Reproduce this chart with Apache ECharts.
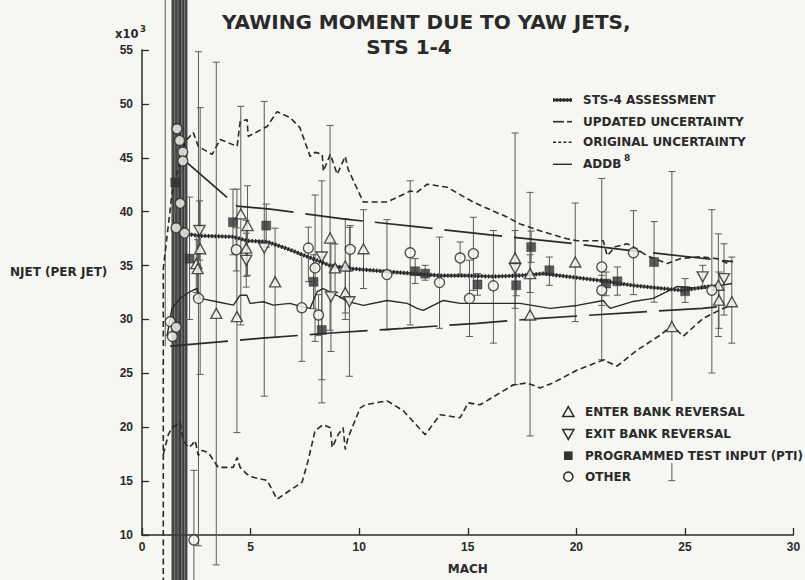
<!DOCTYPE html>
<html><head><meta charset="utf-8">
<script src="https://cdn.jsdelivr.net/npm/echarts@6/dist/echarts.min.js"></script>
<style>html,body{margin:0;padding:0;background:#f6f6f3}#c{width:805px;height:580px}</style>
</head><body><div id="c"></div><script>
// ---------- DATA (Mach, NJET x10^3) ----------
const xTicks = [0, 5, 10, 15, 20, 25, 30];
const yTicks = [10, 15, 20, 25, 30, 35, 40, 45, 50, 55];

const stsAssessment = [[1.53,38.40],[1.99,37.94],[2.68,37.76],[4.20,37.67],[4.84,37.30],[5.76,37.20],[6.69,36.56],[7.28,36.10],[8.67,34.99],[9.72,34.71],[11.29,34.44],[12.49,34.25],[13.73,34.07],[14.97,34.07],[16.17,33.98],[17.41,34.07],[18.47,34.25],[19.58,33.98],[21.10,33.61],[22.62,33.15],[24.00,32.87],[24.92,32.69],[26.02,33.05],[26.6,33.1]];

const updatedUpper = [[1.90,44.86],[4.38,40.52],[5.90,40.24],[9.26,39.33],[12.71,38.59],[16.03,37.85],[19.57,37.11],[22.62,36.37],[27.22,35.36]];
const updatedLower = [[1.30,27.52],[5.53,28.26],[8.53,28.72],[12.03,29.18],[15.43,29.64],[18.33,30.10],[22.71,30.66],[25.80,31.03],[27.08,31.30]];

const originalUpper = [[0.98,5.5],[0.98,34.71],[1.39,41.81],[1.99,46.5],[2.36,47.35],[2.59,46.06],[3.23,45.32],[3.60,46.70],[4.38,46.06],[4.52,48.36],[4.84,48.55],[4.89,46.98],[5.76,47.90],[6.22,49.28],[6.82,48.73],[7.27,47.8],[7.74,45.13],[7.97,45.50],[8.30,45.32],[8.35,43.75],[8.67,45.32],[8.99,43.47],[9.36,45.13],[9.49,43.94],[10.19,40.89],[11.29,40.89],[12.35,41.91],[12.67,41.81],[13.13,42.55],[14.05,42.27],[15.25,40.89],[16.17,40.06],[16.81,39.50],[17.41,38.86],[18.33,38.22],[19.57,37.48],[20.04,37.30],[21.24,37.30],[21.42,35.91],[21.79,36.74],[22.34,37.02],[22.62,36.74],[23.26,35.91],[24.18,35.18],[24.78,35.64],[25.70,35.82],[26.48,35.64],[26.99,35.18]];
const originalLower = [[0.98,17.47],[1.21,19.31],[1.39,19.96],[1.76,20.42],[1.90,18.76],[2.13,18.12],[2.31,18.39],[2.45,18.76],[2.59,17.38],[2.77,17.84],[3.05,17.65],[3.51,16.27],[4.20,16.27],[4.38,17.19],[4.52,16.27],[4.84,15.63],[5.12,15.35],[5.76,15.07],[6.22,13.32],[6.82,14.15],[7.37,14.89],[7.65,16.92],[7.97,19.68],[8.34,20.24],[8.67,19.96],[8.76,18.12],[9.03,19.31],[9.26,19.96],[9.36,17.93],[9.49,19.04],[10.05,21.80],[10.28,22.08],[11.29,22.45],[12.03,21.53],[13.04,19.31],[13.73,21.16],[14.65,20.88],[15.02,22.26],[15.57,22.08],[17.09,23.92],[17.73,24.11],[18.33,23.65],[18.93,24.11],[20.04,25.31],[21.24,26.23],[21.88,25.68],[22.80,27.15],[23.86,28.54],[24.41,29.46],[24.92,28.44],[25.84,30.10],[26.48,30.75],[27.08,31.30]];

const addb = [[1.15,28.42],[1.38,31.03],[1.76,31.95],[2.22,32.59],[2.53,32.87],[2.68,31.95],[3.45,31.64],[4.21,31.33],[4.52,32.25],[4.83,32.25],[4.98,31.49],[5.59,31.64],[6.05,31.33],[6.82,31.49],[7.28,31.21],[7.74,31.03],[8.07,32.59],[8.34,32.87],[8.99,32.22],[9.45,31.67],[10.19,31.30],[11.29,31.76],[12.21,31.49],[12.67,31.03],[12.95,30.84],[13.41,31.30],[13.87,31.76],[14.65,31.49],[16.17,31.49],[17.41,31.49],[18.79,31.03],[20.04,31.30],[21.24,31.76],[21.42,31.30],[21.56,31.03],[22.62,31.67],[23.54,31.95],[24.64,33.05],[25.70,32.87],[26.30,33.05],[27.17,33.33]];

// markers: [mach, value, errLow, errHigh]
const enterBank = [[2.68,36.56,24.9,49.65],[2.50,35.18,32.5,37.8],[2.56,34.71,32.0,37.4],[3.42,30.56,7.23,53.87],[4.37,30.26,19.5,42.09],[4.55,39.79,29.49,49.77],[4.86,38.71,34.1,42.40],[4.80,36.62,34.0,39.2],[6.13,33.49,28.32,38.47],[8.66,37.55,29.0,48.0],[8.89,34.78,32.5,37.0],[9.36,34.96,30.6,39.33],[9.36,32.50,30.0,35.0],[10.20,36.56,32.87,40.18],[17.18,35.70,23.95,47.3],[17.87,34.25,32.5,36.0],[17.87,30.41,19.19,41.79],[19.95,35.33,29.80,40.80],[24.40,29.34,15.04,43.72],[26.54,33.17,28.42,37.94],[26.57,31.79,29.18,34.4],[27.16,31.64,27.80,35.79]];
const exitBank = [[2.65,38.25,35.5,41.0],[4.80,35.48,33.0,38.0],[5.63,36.62,22.88,50.23],[8.28,35.79,24.41,42.86],[8.70,32.10,27.03,37.2],[9.55,31.64,24.73,38.55],[17.18,34.71,31.03,38.25],[25.82,33.95,32.9,35.02],[26.80,33.79,30.41,37.02]];
const ptiInput = [[1.53,42.71,40.0,45.4],[2.19,35.64,30.0,41.35],[4.19,39.02,36.0,42.09],[5.72,38.71,36.7,40.7],[7.90,33.49,31.0,36.0],[8.28,29.02,22.26,35.8],[12.58,34.47,33.33,35.64],[13.04,34.25,33.64,35.02],[15.45,33.24,32.25,34.25],[17.23,33.17,32.2,34.2],[17.92,36.71,35.3,38.2],[18.76,34.56,33.17,35.79],[21.37,33.33,32.2,34.4],[21.89,33.54,32.25,34.87],[23.58,35.33,31.6,39.08],[25.01,32.62,31.58,33.79]];
const otherPts = [[1.61,47.69],[1.73,46.61],[1.88,45.53],[1.88,44.70],[1.76,40.77],[1.57,38.50],[1.96,38.01],[2.60,31.95,9.0,54.84],[1.30,29.80],[1.57,29.27],[1.40,28.42],[2.39,9.54,3.0,16.0],[4.34,36.47,34.5,38.5],[7.36,31.09,26.11,36.0],[7.66,36.62,33.5,38.56],[7.97,34.78,27.96,41.54],[8.13,30.41,28.5,32.3],[9.59,36.50,34.5,38.71],[11.28,34.16,29.02,39.26],[12.35,36.19,29.49,42.86],[13.70,33.42,29.18,37.64],[14.65,35.70,34.2,37.18],[15.08,31.95,28.42,35.5],[15.26,36.10,32.7,39.48],[16.18,33.12,27.80,38.25],[21.17,34.87,26.26,43.08],[21.17,32.71,31.3,34.1],[22.63,36.19,32.3,40.09],[26.24,32.71,25.03,40.18]];

// dense error bars around Mach 1.4-2.1 (extend off-chart)
const bandMach = [1.39,1.46,1.53,1.60,1.66,1.72,1.78,1.85,1.92,1.99,2.06];
const bandSpan = [3, 62];
const extraBars = [[1.07, 27.5, 62]];

// ---------- CHART ----------
const BG = '#f6f6f3', INK = '#2a2a2a', BAR = '#5a5a5a';
const TXT = 'DejaVu Sans', NUM = 'Liberation Sans';
const chart = echarts.init(document.getElementById('c'), null, {renderer: 'svg'});

const errData = [].concat(enterBank, exitBank, ptiInput, otherPts)
  .filter(d => d.length === 4).map(d => [d[0], d[2], d[3], 1])
  .concat(extraBars.map(d => [d[0], d[1], d[2], 0]));
const bandData = bandMach.map(m => [m, bandSpan[0], bandSpan[1], 0]);

function barRender(color, width, capHalf) {
  return function (params, api) {
    const x = api.value(0), lo = api.value(1), hi = api.value(2);
    const withCap = capHalf > 0 && api.value(3) === 1;
    const a = api.coord([x, hi]), b = api.coord([x, lo]);
    const st = {stroke: color, lineWidth: width};
    const ch = [{type: 'line', shape: {x1: a[0], y1: a[1], x2: b[0], y2: b[1]}, style: st}];
    if (withCap) {
      ch.push({type: 'line', shape: {x1: a[0]-capHalf, y1: a[1], x2: a[0]+capHalf, y2: a[1]}, style: st});
      ch.push({type: 'line', shape: {x1: b[0]-capHalf, y1: b[1], x2: b[0]+capHalf, y2: b[1]}, style: st});
    }
    return {type: 'group', children: ch};
  };
}

const lineBase = {type: 'line', showSymbol: false, symbol: 'none', clip: false, silent: true, z: 3, animation: false};
const pts = arr => arr.map(d => [d[0], d[1]]);
const mk = {color: BG, borderColor: INK, borderWidth: 1.4};

const textEl = (x, y, text, size, family, extra) => ({
  type: 'text', x: x, y: y, z: 60,
  style: Object.assign({text: text, fontSize: size, fontWeight: 'bold', fontFamily: family, fill: INK,
    textAlign: 'left', align: 'left', textVerticalAlign: 'middle', verticalAlign: 'middle'}, extra || {})
});
const lineEl = (x1, y1, x2, y2, w, dash) => ({type: 'line', z: 60, shape: {x1, y1, x2, y2},
  style: {stroke: INK, lineWidth: w, lineDash: dash || null}});

const graphics = [
  textEl(222, 22, 'YAWING MOMENT DUE TO YAW JETS,', 20, TXT),
  textEl(409, 47, 'STS 1-4', 20, TXT, {textAlign: 'center', align: 'center'}),
  textEl(115, 34, 'x10', 11.5, TXT),
  textEl(140, 28.5, '3', 8.5, TXT),
  textEl(10, 272, 'NJET (PER JET)', 12, TXT),
  // upper legend
  lineEl(553, 100, 572, 100, 2.6),
  lineEl(553, 100, 572, 100, 4.2, [1.2, 2.2]),
  textEl(583, 100, 'STS-4 ASSESSMENT', 12, TXT),
  lineEl(553, 121.7, 564, 121.7, 1.6),
  lineEl(567, 121.7, 572, 121.7, 1.6),
  textEl(583, 121.7, 'UPDATED UNCERTAINTY', 12, TXT),
  lineEl(553, 142.3, 572, 142.3, 1.5, [3, 2.2]),
  textEl(583, 142.3, 'ORIGINAL UNCERTAINTY', 12, TXT),
  lineEl(553, 164.3, 572, 164.3, 1.4),
  textEl(583, 164.3, 'ADDB', 12, TXT),
  textEl(624, 157.5, '8', 9, TXT),
  // lower legend (with blank background)
  {type: 'rect', z: 55, shape: {x: 560, y: 401, width: 245, height: 62}, style: {fill: BG}},
  {type: 'polygon', z: 60, shape: {points: [[568.3,406.6],[573.9,416.4],[562.7,416.4]]}, style: {fill: BG, stroke: INK, lineWidth: 1.5}},
  textEl(585, 411.7, 'ENTER BANK REVERSAL', 12, TXT),
  {type: 'polygon', z: 60, shape: {points: [[562.7,429.6],[573.9,429.6],[568.3,439.4]]}, style: {fill: BG, stroke: INK, lineWidth: 1.5}},
  textEl(585, 434.3, 'EXIT BANK REVERSAL', 12, TXT),
  {type: 'rect', z: 60, shape: {x: 564, y: 451.4, width: 8.6, height: 8.6}, style: {fill: '#333'}},
  textEl(585, 455.7, 'PROGRAMMED TEST INPUT (PTI)', 12, TXT),
  {type: 'circle', z: 60, shape: {cx: 568.3, cy: 476.7, r: 4.6}, style: {fill: BG, stroke: INK, lineWidth: 1.5}},
  textEl(585, 476.7, 'OTHER', 12, TXT)
];

const axisCommon = {
  type: 'value', splitLine: {show: false},
  axisLine: {show: true, onZero: false, lineStyle: {color: INK, width: 1.5}},
  axisTick: {show: true, inside: true, length: 7, lineStyle: {color: INK, width: 1.3}},
  axisLabel: {fontSize: 12, fontWeight: 'bold', fontFamily: NUM, color: INK}
};

chart.setOption({
  animation: false,
  backgroundColor: BG,
  grid: {left: 142, top: 50, width: 651.5, height: 488, containLabel: false},
  xAxis: Object.assign({}, axisCommon, {min: xTicks[0], max: xTicks[xTicks.length-1], interval: 5,
    axisLabel: Object.assign({}, axisCommon.axisLabel, {margin: 6}),
    name: 'MACH', nameLocation: 'middle', nameGap: 28,
    nameTextStyle: {fontSize: 12, fontWeight: 'bold', fontFamily: TXT, color: INK}}),
  yAxis: Object.assign({}, axisCommon, {min: yTicks[0], max: yTicks[yTicks.length-1], interval: 5,
    axisLabel: Object.assign({}, axisCommon.axisLabel, {margin: 9})}),
  graphic: {elements: graphics},
  series: [
    {type: 'custom', name: 'band', clip: false, silent: true, z: 2, data: bandData,
      renderItem: barRender('#3c3c3c', 1.4, 0), encode: {x: 0, y: [1, 2]}},
    {type: 'custom', name: 'errbars', clip: false, silent: true, z: 2, data: errData,
      renderItem: barRender(BAR, 1, 3.5), encode: {x: 0, y: [1, 2]}},
    Object.assign({}, lineBase, {name: 'ORIGINAL UNCERTAINTY', data: originalUpper, lineStyle: {color: INK, width: 1.6, type: [6, 3.5]}}),
    Object.assign({}, lineBase, {name: 'ORIGINAL UNCERTAINTY L', data: originalLower, lineStyle: {color: INK, width: 1.6, type: [6, 3.5]}}),
    Object.assign({}, lineBase, {name: 'UPDATED UNCERTAINTY', data: updatedUpper, lineStyle: {color: INK, width: 1.7, type: [58, 12]}}),
    Object.assign({}, lineBase, {name: 'UPDATED UNCERTAINTY L', data: updatedLower, lineStyle: {color: INK, width: 1.7, type: [58, 12]}}),
    Object.assign({}, lineBase, {name: 'ADDB', data: addb, lineStyle: {color: INK, width: 1.4}}),
    Object.assign({}, lineBase, {name: 'STS-4 ASSESSMENT', data: stsAssessment, lineStyle: {color: '#4a4a4a', width: 2.6}}),
    Object.assign({}, lineBase, {name: 'STS-4 dots', data: stsAssessment, lineStyle: {color: '#1e1e1e', width: 4.2, type: [1.2, 2.2]}}),
    {type: 'scatter', name: 'ENTER BANK REVERSAL', clip: false, z: 5, silent: true, data: pts(enterBank),
      symbol: 'triangle', symbolSize: [11, 10], itemStyle: mk},
    {type: 'scatter', name: 'EXIT BANK REVERSAL', clip: false, z: 5, silent: true, data: pts(exitBank),
      symbol: 'triangle', symbolRotate: 180, symbolSize: [11, 10], itemStyle: mk},
    {type: 'scatter', name: 'PTI', clip: false, z: 5, silent: true, data: pts(ptiInput),
      symbol: 'rect', symbolSize: 9, itemStyle: {color: '#333', borderColor: '#222', borderWidth: 0.5}},
    {type: 'scatter', name: 'OTHER', clip: false, z: 5, silent: true, data: pts(otherPts),
      symbol: 'circle', symbolSize: 10, itemStyle: mk}
  ]
});
</script></body></html>
